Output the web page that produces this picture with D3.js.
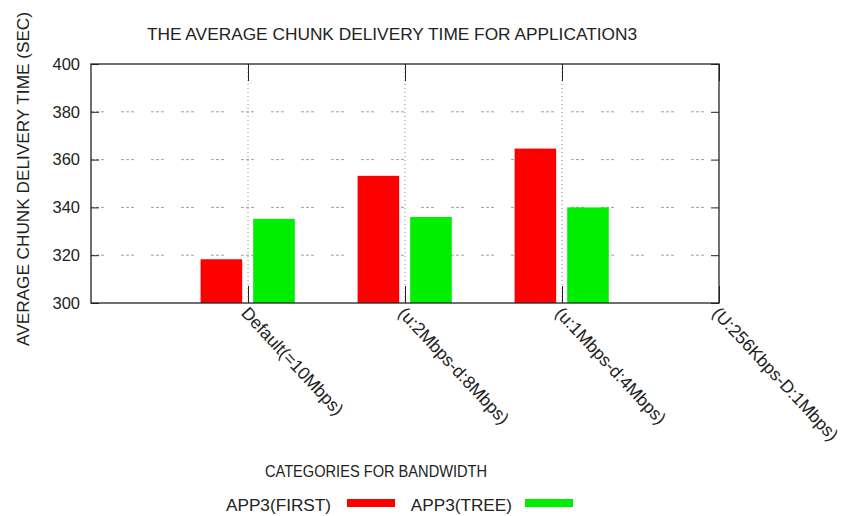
<!DOCTYPE html>
<html>
<head>
<meta charset="utf-8">
<script src="https://cdn.jsdelivr.net/npm/d3@7"></script>
<style>
  html, body { margin: 0; padding: 0; background: #fff; }
  svg { display: block; font-family: "Liberation Sans", Arial, sans-serif; }
</style>
</head>
<body>
<svg id="chart" width="841" height="516"></svg>
<script>
// Bandwidth categories along the x axis
const categories = ["Default(=10Mbps)", "(u:2Mbps-d:8Mbps)", "(u:1Mbps-d:4Mbps)", "(U:256Kbps-D:1Mbps)"];
// Average chunk delivery time (sec) per category; null = no measurement
const firstValues = [318.3, 353.2, 364.6, null];
const treeValues  = [335.2, 336.0, 340.0, null];
const seriesNames = ["APP3(FIRST)", "APP3(TREE)"];
const seriesColors = ["#ff0000", "#00ee00"];
const yTicks = [300, 320, 340, 360, 380, 400];

const titleText = "THE AVERAGE CHUNK DELIVERY TIME FOR APPLICATION3";
const yLabelText = "AVERAGE CHUNK DELIVERY TIME (SEC)";
const xLabelText = "CATEGORIES FOR BANDWIDTH";

const svg = d3.select("#chart");
const plot = { left: 91, right: 719, top: 64, bottom: 303 };
const textColor = "#222";

// x: category index, one unit of padding on the left
const x = d3.scaleLinear().domain([-1, categories.length - 1]).range([plot.left, plot.right]);
const y = d3.scaleLinear().domain([300, 400]).range([plot.bottom, plot.top]);

// bar geometry in category units
const barW = 0.265;
const offsets = [-0.302, 0.033];

// horizontal grid (dashed groups)
svg.append("g").selectAll("line")
  .data(yTicks.filter(t => t > 300 && t < 400))
  .join("line")
  .attr("x1", plot.left).attr("x2", plot.right)
  .attr("y1", d => y(d)).attr("y2", d => y(d))
  .attr("stroke", "#a0a0a0").attr("stroke-width", 1)
  .attr("stroke-dasharray", "3,2,3,2,3,17");

// vertical grid (dotted) at category positions
svg.append("g").selectAll("line")
  .data(d3.range(categories.length - 1))
  .join("line")
  .attr("x1", d => x(d)).attr("x2", d => x(d))
  .attr("y1", plot.top).attr("y2", plot.bottom)
  .attr("stroke", "#8a8a8a").attr("stroke-width", 1)
  .attr("stroke-dasharray", "1,3");

// bars
const series = [firstValues, treeValues];
series.forEach((vals, si) => {
  svg.append("g").selectAll("rect")
    .data(vals.map((v, i) => ({ v, i })).filter(d => d.v !== null))
    .join("rect")
    .attr("x", d => x(d.i + offsets[si]))
    .attr("width", d => x(d.i + offsets[si] + barW) - x(d.i + offsets[si]))
    .attr("y", d => y(d.v))
    .attr("height", d => y(300) - y(d.v))
    .attr("fill", seriesColors[si]);
});

// y axis ticks + labels (left), mirrored ticks on the right
const yAxisL = d3.axisLeft(y).tickValues(yTicks).tickSize(-8).tickPadding(11);
const gy = svg.append("g").attr("transform", `translate(${plot.left},0)`).call(yAxisL);
gy.select(".domain").remove();
gy.selectAll(".tick line").attr("stroke", "#222");
gy.selectAll(".tick text").attr("font-size", 16.5).attr("fill", textColor)
  .attr("font-family", "Liberation Sans, Arial, sans-serif");

const yAxisR = d3.axisRight(y).tickValues(yTicks).tickSize(-8).tickFormat("");
const gyr = svg.append("g").attr("transform", `translate(${plot.right},0)`).call(yAxisR);
gyr.select(".domain").remove();
gyr.selectAll(".tick line").attr("stroke", "#222");

// x ticks (bottom and top) at category positions
const xTickVals = d3.range(categories.length);
const xAxisB = d3.axisBottom(x).tickValues(xTickVals).tickSize(-17).tickFormat("");
const gxb = svg.append("g").attr("transform", `translate(0,${plot.bottom})`).call(xAxisB);
gxb.select(".domain").remove();
gxb.selectAll(".tick line").attr("stroke", "#222");
const xAxisT = d3.axisTop(x).tickValues(xTickVals).tickSize(-17).tickFormat("");
const gxt = svg.append("g").attr("transform", `translate(0,${plot.top})`).call(xAxisT);
gxt.select(".domain").remove();
gxt.selectAll(".tick line").attr("stroke", "#222");

// rotated category labels
svg.append("g").selectAll("text")
  .data(categories)
  .join("text")
  .attr("transform", (d, i) => `translate(${x(i) + 2},${plot.bottom + 2}) rotate(47)`)
  .attr("dy", "0.75em")
  .attr("text-anchor", "start")
  .attr("font-size", 17.6)
  .attr("fill", textColor)
  .text(d => d);

// plot frame
svg.append("rect")
  .attr("x", plot.left).attr("y", plot.top)
  .attr("width", plot.right - plot.left).attr("height", plot.bottom - plot.top)
  .attr("fill", "none").attr("stroke", "#222").attr("stroke-width", 1.3);

// title
svg.append("text")
  .attr("x", 392).attr("y", 40)
  .attr("text-anchor", "middle")
  .attr("font-size", 17.3).attr("fill", textColor)
  .text(titleText);

// y axis label
svg.append("text")
  .attr("transform", `translate(29,179) rotate(-90)`)
  .attr("text-anchor", "middle")
  .attr("font-size", 17.2).attr("fill", textColor)
  .text(yLabelText);

// x axis label (slightly condensed face)
svg.append("text")
  .attr("transform", "translate(376,477) scale(0.87,1)")
  .attr("text-anchor", "middle")
  .attr("font-size", 16.8).attr("fill", textColor)
  .text(xLabelText);

// legend
const legendItems = [
  { name: seriesNames[0], color: seriesColors[0], textRight: 331, sx: 347 },
  { name: seriesNames[1], color: seriesColors[1], textRight: 512, sx: 525 }
];
const lg = svg.append("g");
legendItems.forEach(it => {
  lg.append("text")
    .attr("x", it.textRight).attr("y", 511)
    .attr("text-anchor", "end")
    .attr("font-size", 17.2).attr("fill", textColor)
    .text(it.name);
  lg.append("rect")
    .attr("x", it.sx).attr("y", 499)
    .attr("width", 48).attr("height", 8)
    .attr("fill", it.color);
});
</script>
</body>
</html>
